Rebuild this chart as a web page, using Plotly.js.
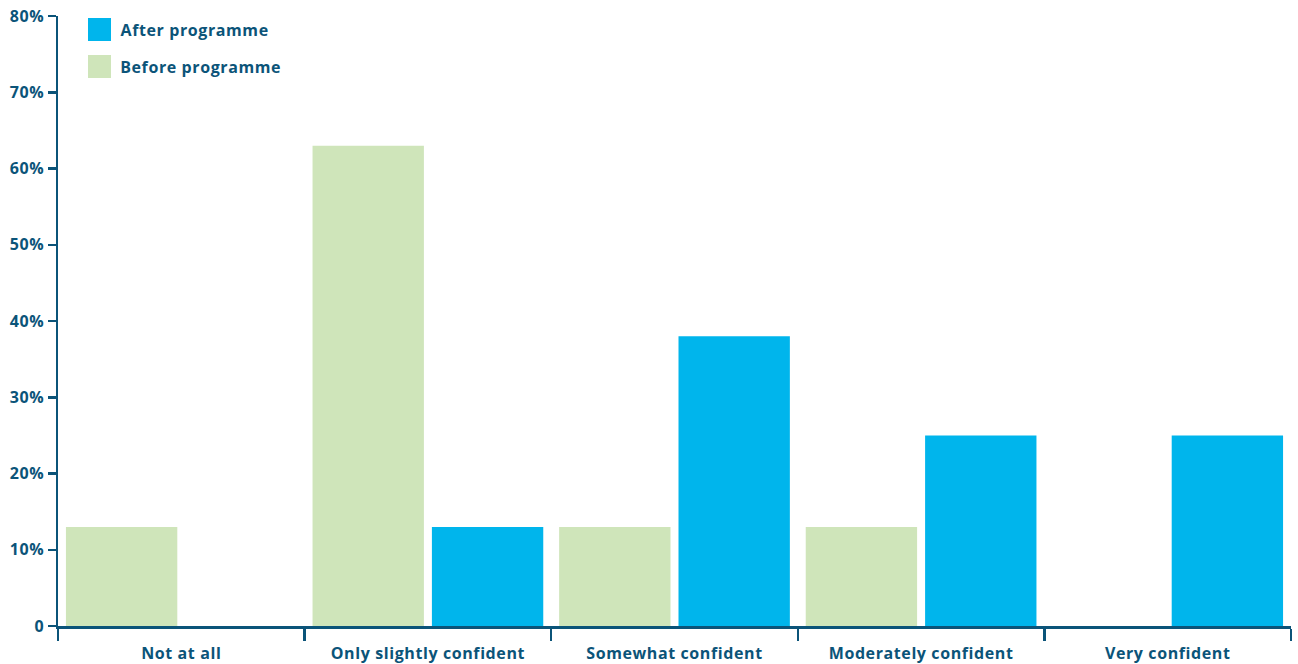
<!DOCTYPE html>
<html>
<head>
<meta charset="utf-8">
<script src="https://cdn.plot.ly/plotly-3.0.1.min.js"></script>
<style>html,body{margin:0;padding:0;background:#fff;}#chart{width:1298px;height:664px;}#chart text{letter-spacing:0.6px;}</style>
</head>
<body>
<div id="chart"></div>
<script>
const categories = ["Not at all", "Only slightly confident", "Somewhat confident", "Moderately confident", "Very confident"];
const beforeValues = [13, 63, 13, 13, 0];
const afterValues = [0, 13, 38, 25, 25];
const yTickVals = [0, 10, 20, 30, 40, 50, 60, 70, 80];
const yTickText = ["0", "10%", "20%", "30%", "40%", "50%", "60%", "70%", "80%"];
const seriesNames = ["Before programme", "After programme"];

const ink = "#0b5479";
const fontFam = "'Open Sans', Lato, sans-serif";

const traces = [
  {type: "bar", name: seriesNames[0], x: categories, y: beforeValues, marker: {color: "#cfe5ba"}, hoverinfo: "x+y"},
  {type: "bar", name: seriesNames[1], x: categories, y: afterValues, marker: {color: "#00b5ec"}, hoverinfo: "x+y"}
];

const layout = {
  width: 1298, height: 664,
  margin: {l: 58, r: 7, t: 16, b: 38},
  paper_bgcolor: "#fff", plot_bgcolor: "#fff",
  barmode: "group", bargap: 0.032, bargroupgap: 0.067,
  showlegend: false,
  font: {family: fontFam, color: ink, size: 16, weight: 700},
  xaxis: {
    type: "category", tickson: "boundaries", ticks: "outside", ticklen: 12, tickwidth: 2.5, tickcolor: ink,
    showline: true, linecolor: ink, linewidth: 2.5, showgrid: false, zeroline: false, ticklabelstandoff: 11,
    tickfont: {family: fontFam, size: 16, color: ink, weight: 700}, fixedrange: true
  },
  yaxis: {
    range: [0, 80], tickvals: yTickVals, ticktext: yTickText, ticks: "outside", ticklen: 8, tickwidth: 2.5, tickcolor: ink,
    showline: true, linecolor: ink, linewidth: 2.5, showgrid: false, zeroline: false,
    tickfont: {family: fontFam, size: 16, color: ink, weight: 700}, fixedrange: true
  },
  shapes: [
    {type: "rect", xref: "paper", yref: "paper", x0: 30/1233, x1: 53/1233, y0: (626-41)/610, y1: (626-18)/610, fillcolor: "#00b5ec", line: {width: 0}},
    {type: "rect", xref: "paper", yref: "paper", x0: 30/1233, x1: 53/1233, y0: (626-78)/610, y1: (626-55)/610, fillcolor: "#cfe5ba", line: {width: 0}}
  ],
  annotations: [
    {xref: "paper", yref: "paper", x: 65/1233, y: (626-30)/610, xanchor: "left", yanchor: "middle", text: seriesNames[1], showarrow: false, font: {family: fontFam, size: 16, color: ink, weight: 700}},
    {xref: "paper", yref: "paper", x: 65/1233, y: (626-67)/610, xanchor: "left", yanchor: "middle", text: seriesNames[0], showarrow: false, font: {family: fontFam, size: 16, color: ink, weight: 700}}
  ]
};

Plotly.newPlot("chart", traces, layout, {displayModeBar: false, staticPlot: true});
</script>
</body>
</html>
